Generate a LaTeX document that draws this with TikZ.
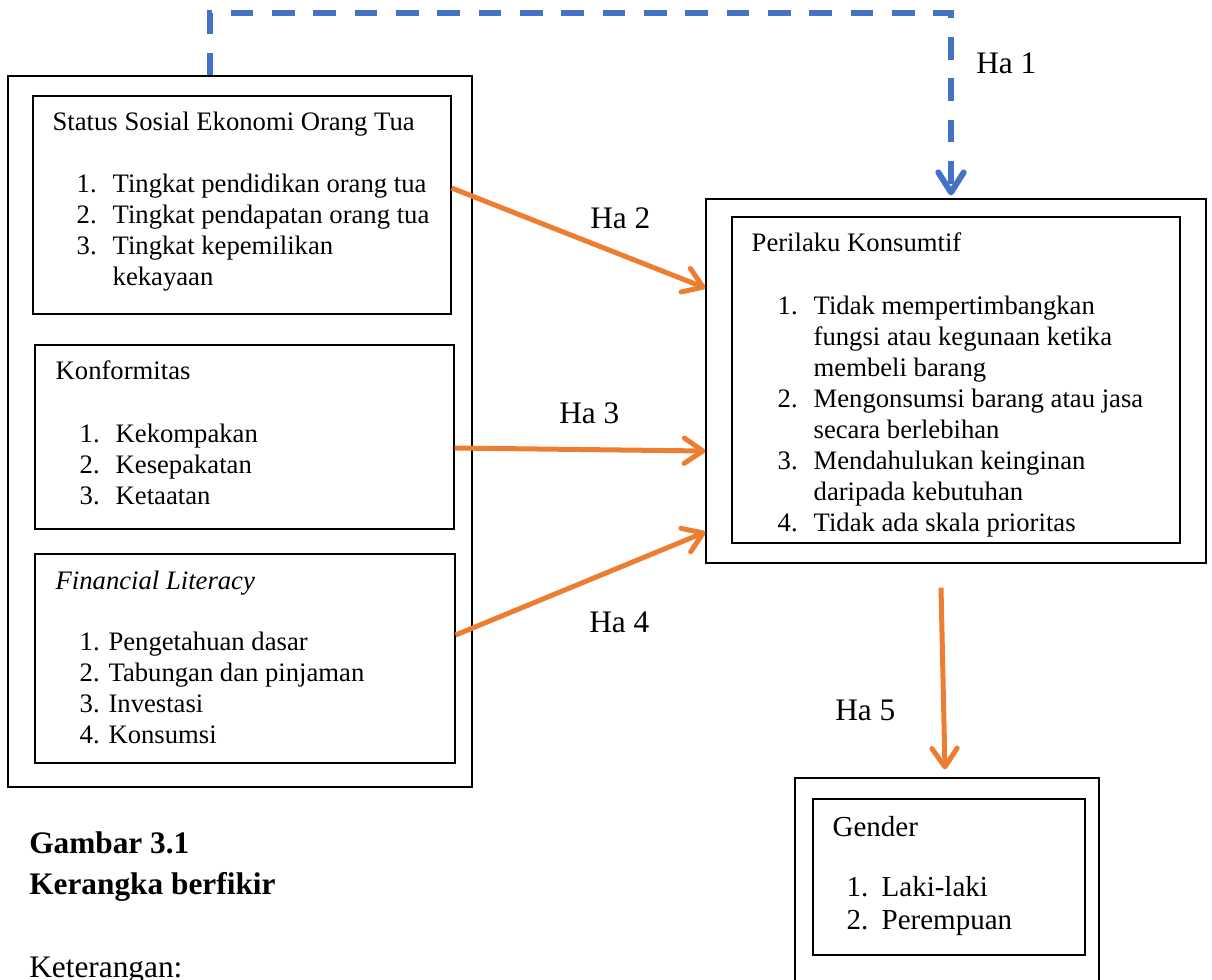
\documentclass[tikz,border=0pt]{standalone}
\usepackage{fontspec}
\setmainfont{Liberation Serif}
\usetikzlibrary{arrows.meta,fit,positioning}

\definecolor{arrorange}{HTML}{ED7D31}
\definecolor{arrblue}{HTML}{4472C4}
\newcommand{\itm}[2]{\makebox[27pt][l]{#1}#2}
\newcommand{\gitm}[2]{\makebox[26.25pt][l]{#1}#2}

\begin{document}
\begin{tikzpicture}[x=0.75pt,y=-0.75pt]
\tikzstyle{box}=[draw, line width=0.9pt, inner sep=0pt]
\tikzstyle{txt}=[anchor=base west, inner sep=0pt, font=\fontsize{20}{23.25}\selectfont]
\tikzstyle{gtxt}=[anchor=base west, inner sep=0pt, font=\fontsize{21.75}{25}\selectfont]
\tikzstyle{big}=[anchor=base west, inner sep=0pt, font=\fontsize{23.5}{30.75}\selectfont]
\tikzstyle{ha}=[draw=arrorange, line width=3.75pt,
  -{Straight Barb[round,length=14pt,width=19pt]}]
\tikzstyle{hadash}=[draw=arrblue, line width=4.5pt, dash pattern=on 17pt off 14pt,
  -{Straight Barb[round,length=15pt,width=19pt]}]
\useasboundingbox (0,0) rectangle (1212,979);

\node[box, fit={(8,76) (472,787)}] (kiri) {};
\node[box, fit={(33,96) (451,314)}] (sse) {};
\node[box, fit={(35,345) (454,529)}] (konf) {};
\node[box, fit={(35,554) (455,763)}] (fin) {};
\node[box, fit={(706,199) (1206,563)}] (pk) {};
\node[box, fit={(732,217) (1180,543)}] (pkin) {};
\node[box, fit={(795,778) (1099,1010)}] (gen) {};
\node[box, fit={(813,799) (1085,955)}] (genin) {};

\node[txt] (ssetitle) at ([shift={(20,35)}]sse.north west) {Status Sosial Ekonomi Orang Tua};
\node[txt] (sselist) at ([shift={(44,97)}]sse.north west) {\begin{tabular}[t]{@{}l@{}}
  \itm{1.}{Tingkat pendidikan orang tua}\\
  \itm{2.}{Tingkat pendapatan orang tua}\\
  \itm{3.}{Tingkat kepemilikan}\\
  \itm{}{kekayaan}
\end{tabular}};

\node[txt] (konftitle) at ([shift={(21,35)}]konf.north west) {Konformitas};
\node[txt] (konflist) at ([shift={(45,98)}]konf.north west) {\begin{tabular}[t]{@{}l@{}}
  \itm{1.}{Kekompakan}\\
  \itm{2.}{Kesepakatan}\\
  \itm{3.}{Ketaatan}
\end{tabular}};

\node[txt] (fintitle) at ([shift={(21,36)}]fin.north west) {\textit{Financial Literacy}};
\node[txt] (finlist) at ([shift={(45,97)}]fin.north west) {\begin{tabular}[t]{@{}l@{}}
  1. Pengetahuan dasar\\
  2. Tabungan dan pinjaman\\
  3. Investasi\\
  4. Konsumsi
\end{tabular}};

\node[txt] (pktitle) at ([shift={(20,35)}]pkin.north west) {Perilaku Konsumtif};
\node[txt] (pklist) at ([shift={(46,98)}]pkin.north west) {\begin{tabular}[t]{@{}l@{}}
  \itm{1.}{Tidak mempertimbangkan}\\
  \itm{}{fungsi atau kegunaan ketika}\\
  \itm{}{membeli barang}\\
  \itm{2.}{Mengonsumsi barang atau jasa}\\
  \itm{}{secara berlebihan}\\
  \itm{3.}{Mendahulukan keinginan}\\
  \itm{}{daripada kebutuhan}\\
  \itm{4.}{Tidak ada skala prioritas}
\end{tabular}};

\node[gtxt] (gentitle) at ([shift={(20,38)}]genin.north west) {Gender};
\node[gtxt] (genlist) at ([shift={(34,98)}]genin.north west) {\begin{tabular}[t]{@{}l@{}}
  \gitm{1.}{Laki-laki}\\
  \gitm{2.}{Perempuan}
\end{tabular}};

\draw[hadash] ([shift={(-30,0)}]kiri.north) -- ++(0,-62) -| ([shift={(-5,-3)}]pk.north);
\draw[ha] ([shift={(0,-17)}]sse.east) -- ([shift={(0,-93)}]pk.west);
\draw[ha] ([shift={(0,11)}]konf.east) -- ([shift={(0,70)}]pk.west);
\draw[ha] ([shift={(0,-23.5)}]fin.east) -- ([shift={(0,151)}]pk.west);
\draw[ha] ([shift={(-15,24)}]pk.south) -- ([shift={(-2,-8)}]gen.north);

\node[big] (ha1) at (976,73) {Ha 1};
\node[big] (ha2) at (590,228) {Ha 2};
\node[big] (ha3) at (559,423) {Ha 3};
\node[big] (ha4) at (589,632) {Ha 4};
\node[big] (ha5) at (835,720) {Ha 5};

\node[big, font=\bfseries\fontsize{23.5}{30.75}\selectfont] (gambar) at (29,853) {Gambar 3.1};
\node[big, font=\bfseries\fontsize{23.5}{30.75}\selectfont] (kerangka) at (29,894) {Kerangka berfikir};
\node[big] (ket) at (29,977) {Keterangan:};
\end{tikzpicture}
\end{document}
